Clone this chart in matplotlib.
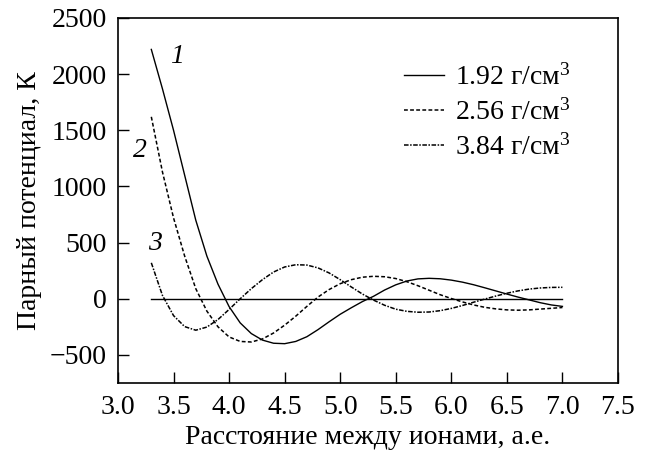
import matplotlib
matplotlib.use("Agg")
import matplotlib.pyplot as plt

plt.rcParams["font.family"] = ["Liberation Serif", "DejaVu Serif"]
plt.rcParams["mathtext.fontset"] = "custom"
plt.rcParams["mathtext.rm"] = "Liberation Serif"
plt.rcParams["mathtext.it"] = "Liberation Serif:italic"

# distance between ions, a.u.
r = [3.3, 3.4, 3.5, 3.6, 3.7, 3.8, 3.9, 4.0, 4.1, 4.2, 4.3, 4.4, 4.5,
     4.6, 4.7, 4.8, 4.9, 5.0, 5.1, 5.2, 5.3, 5.4, 5.5, 5.6, 5.7, 5.8,
     5.9, 6.0, 6.1, 6.2, 6.3, 6.4, 6.5, 6.6, 6.7, 6.8, 6.9, 7.0]

# pair potential, K
u_192 = [2220, 1870, 1500, 1100, 700, 380, 130, -70, -215, -310, -368, -396, -400,
         -380, -338, -275, -205, -138, -80, -25, 22, 78, 124, 158, 177, 182,
         178, 166, 148, 125, 98, 70, 42, 15, -10, -35, -55, -68]
u_256 = [1620, 1130, 720, 380, 90, -110, -250, -340, -380, -385, -358, -305, -235,
         -155, -68, 15, 82, 134, 170, 192, 200, 196, 180, 152, 116, 76,
         36, 2, -28, -55, -76, -90, -99, -102, -99, -92, -85, -78]
u_384 = [320, 30, -150, -248, -280, -252, -185, -95, 0, 90, 170, 238, 283,
         303, 300, 275, 230, 170, 105, 42, -12, -58, -93, -112, -120, -118,
         -106, -86, -60, -31, -3, 24, 49, 70, 86, 96, 101, 102]

labels = ["1.92 г/см$^3$", "2.56 г/см$^3$", "3.84 г/см$^3$"]

fig = plt.figure(figsize=(6.49, 4.54), dpi=100)
ax = fig.add_axes([0.1818, 0.1564, 0.7704, 0.804])

ax.plot([r[0], r[-1]], [0, 0], color="black", lw=1.0)
ax.plot(r, u_192, color="black", lw=1.0, ls="-", label=labels[0])
ax.plot(r, u_256, color="black", lw=1.1, ls=(0, (2.5, 1.5)), label=labels[1])
ax.plot(r, u_384, color="black", lw=1.1, ls=(0, (3, 1, 1, 1)), label=labels[2])

fs = 20
ax.text(3.53, 2160, "1", fontsize=fs, style="italic", ha="center", va="center")
ax.text(3.2, 1320, "2", fontsize=fs, style="italic", ha="center", va="center")
ax.text(3.33, 490, "3", fontsize=fs, style="italic", ha="center", va="center")

ax.set_xlim(3.0, 7.5)
ax.set_ylim(-750, 2500)
ax.set_xticks([3.0, 3.5, 4.0, 4.5, 5.0, 5.5, 6.0, 6.5, 7.0, 7.5])
ax.set_xticklabels(["3.0", "3.5", "4.0", "4.5", "5.0", "5.5", "6.0", "6.5", "7.0", "7.5"])
ax.set_yticks([-500, 0, 500, 1000, 1500, 2000, 2500])
ax.set_yticklabels(["\u2212500", "0", "500", "1000", "1500", "2000", "2500"])
ax.tick_params(direction="in", length=8, width=1.0, labelsize=fs)
ax.tick_params(axis="x", pad=9)
ax.tick_params(axis="y", pad=8)
for s in ax.spines.values():
    s.set_linewidth(1.2)

ax.set_xlabel("Расстояние между ионами, а.е.", fontsize=fs, labelpad=3)
ax.set_ylabel("Парный потенциал, К", fontsize=fs, labelpad=6)

ax.legend(loc="upper right", bbox_to_anchor=(0.933, 0.911), frameon=False,
          fontsize=fs, handlelength=1.44, handletextpad=0.4, labelspacing=0.3,
          borderpad=0.0)

fig.savefig("out.png", dpi=100)
